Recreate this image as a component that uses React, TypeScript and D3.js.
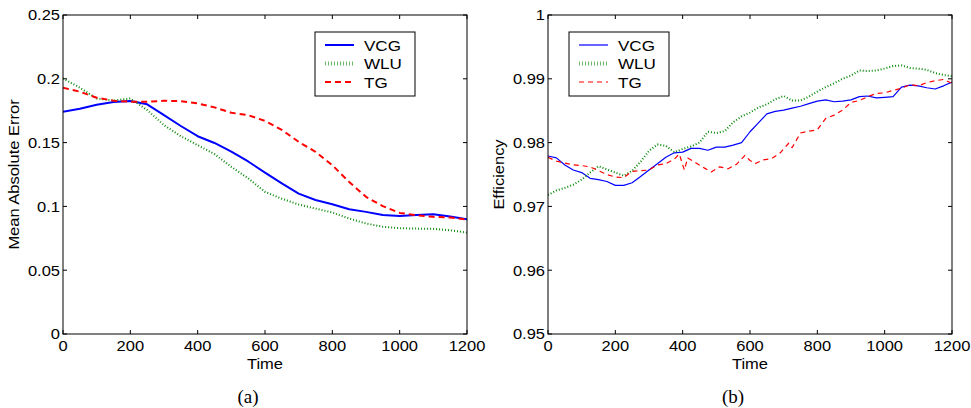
import React from "react";
import * as d3 from "d3";

// ---------- Data: panel (a) Mean Absolute Error ----------
const timeA = [0, 50, 100, 150, 200, 250, 300, 350, 400, 450, 500, 550, 600, 650, 700, 750, 800, 850, 900, 950, 1000, 1050, 1100, 1150, 1200];
const vcgA = [0.1742, 0.1765, 0.1797, 0.1818, 0.1826, 0.1800, 0.1715, 0.1630, 0.1550, 0.1497, 0.1430, 0.1352, 0.1265, 0.1180, 0.1100, 0.1050, 0.1017, 0.0978, 0.0957, 0.0932, 0.0925, 0.0932, 0.0938, 0.0920, 0.0900];
const wluA = [0.2003, 0.1930, 0.1846, 0.1830, 0.1846, 0.1755, 0.1637, 0.1550, 0.1480, 0.1410, 0.1310, 0.1220, 0.1114, 0.1060, 0.1015, 0.0983, 0.0952, 0.0905, 0.0866, 0.0840, 0.0829, 0.0826, 0.0824, 0.0813, 0.0795];
const tgA = [0.1930, 0.1899, 0.1852, 0.1828, 0.1820, 0.1820, 0.1828, 0.1825, 0.1807, 0.1776, 0.1734, 0.1715, 0.1670, 0.1600, 0.1506, 0.1428, 0.1323, 0.1192, 0.1075, 0.1002, 0.0949, 0.0931, 0.0918, 0.0913, 0.0897];

// ---------- Data: panel (b) Efficiency ----------
const timeB = [0, 25, 50, 75, 100, 125, 150, 175, 200, 225, 250, 275, 300, 325, 350, 375, 400, 425, 450, 475, 500, 525, 550, 575, 600, 625, 650, 675, 700, 725, 750, 775, 800, 825, 850, 875, 900, 925, 950, 975, 1000, 1025, 1050, 1075, 1100, 1125, 1150, 1175, 1200];
const vcgB = [0.9779, 0.9776, 0.9765, 0.9757, 0.9753, 0.9744, 0.9742, 0.9739, 0.9733, 0.9733, 0.9737, 0.9747, 0.9757, 0.9767, 0.9777, 0.9784, 0.9785, 0.9791, 0.9791, 0.9788, 0.9793, 0.9793, 0.9796, 0.9800, 0.9817, 0.9831, 0.9845, 0.9849, 0.9851, 0.9854, 0.9857, 0.9861, 0.9865, 0.9867, 0.9864, 0.9865, 0.9867, 0.9872, 0.9873, 0.9870, 0.9871, 0.9872, 0.9887, 0.9890, 0.9889, 0.9886, 0.9884, 0.9889, 0.9895];
const wluB = [0.9718, 0.9725, 0.9729, 0.9734, 0.9742, 0.9753, 0.9763, 0.9758, 0.9753, 0.9748, 0.9756, 0.9770, 0.9787, 0.9797, 0.9795, 0.9785, 0.9790, 0.9794, 0.9800, 0.9817, 0.9815, 0.9818, 0.9832, 0.9841, 0.9847, 0.9855, 0.9860, 0.9868, 0.9873, 0.9866, 0.9866, 0.9872, 0.9880, 0.9887, 0.9893, 0.9900, 0.9905, 0.9913, 0.9912, 0.9913, 0.9916, 0.9920, 0.9921, 0.9917, 0.9916, 0.9914, 0.9909, 0.9906, 0.9904];
const timeTG = [0, 25, 50, 75, 100, 125, 150, 175, 200, 225, 250, 275, 300, 325, 350, 375, 390, 405, 415, 440, 465, 485, 510, 535, 560, 585, 600, 615, 640, 665, 690, 715, 725, 750, 775, 800, 825, 850, 875, 900, 925, 950, 975, 1000, 1025, 1050, 1075, 1100, 1125, 1150, 1175, 1200];
const tgB = [0.9777, 0.9771, 0.9768, 0.9765, 0.9764, 0.9762, 0.9756, 0.9750, 0.9746, 0.9745, 0.9755, 0.9756, 0.9757, 0.9765, 0.9767, 0.9774, 0.9782, 0.9757, 0.9776, 0.9768, 0.9760, 0.9754, 0.9762, 0.9759, 0.9766, 0.9780, 0.9772, 0.9767, 0.9773, 0.9775, 0.9784, 0.9799, 0.9792, 0.9815, 0.9818, 0.9820, 0.9838, 0.9843, 0.9851, 0.9863, 0.9866, 0.9872, 0.9877, 0.9878, 0.9882, 0.9885, 0.9891, 0.9889, 0.9894, 0.9897, 0.9899, 0.9893];

const seriesNames = ["VCG", "WLU", "TG"];
const xTicks = [0, 200, 400, 600, 800, 1000, 1200];
const yTicksA = [0, 0.05, 0.1, 0.15, 0.2, 0.25];
const yTicksALabels = ["0", "0.05", "0.1", "0.15", "0.2", "0.25"];
const yTicksB = [0.95, 0.96, 0.97, 0.98, 0.99, 1];
const yTicksBLabels = ["0.95", "0.96", "0.97", "0.98", "0.99", "1"];

const SANS = "'Liberation Sans', Arial, Helvetica, sans-serif";
const SERIF = "'Liberation Serif', 'Times New Roman', serif";
const SX = 1.1;

function T({ x, y, anchor = "start", size = 15, rotate = 0, family = SANS, dy = "0", children }: any) {
  return (
    <g transform={`translate(${x},${y}) rotate(${rotate}) scale(${SX},1)`}>
      <text x={0} y={0} dy={dy} textAnchor={anchor} fontSize={size} fontFamily={family} fill="#000">
        {children}
      </text>
    </g>
  );
}

type Style = { color: string; width: number; dash: string | null };

function Panel({ left, right, top, bottom, yDomain, yTicks, yLabels, yTitle, caption, series, styles, legendX }: any) {
  const x = d3.scaleLinear().domain([0, 1200]).range([left, right]);
  const y = d3.scaleLinear().domain(yDomain).range([bottom, top]);
  const tl = 4;
  const cx = (left + right) / 2;
  return (
    <g>
      <defs>
        <clipPath id={`clip-${caption}`}>
          <rect x={left} y={top} width={right - left} height={bottom - top} />
        </clipPath>
      </defs>
      <g clipPath={`url(#clip-${caption})`}>
        {series.map((s: any, i: number) => {
          const st: Style = styles[i];
          const line = d3
            .line<number>()
            .x((_, k) => x(s.t[k]))
            .y((v) => y(v))
            .curve(d3.curveLinear);
          return (
            <path
              key={i}
              d={line(s.v) || ""}
              fill="none"
              stroke={st.color}
              strokeWidth={st.width}
              strokeDasharray={st.dash || undefined}
              strokeLinejoin="round"
            />
          );
        })}
      </g>
      <rect x={left} y={top} width={right - left} height={bottom - top} fill="none" stroke="#000" strokeWidth={1} />
      {xTicks.map((t) => (
        <g key={`xt${t}`}>
          <line x1={x(t)} x2={x(t)} y1={bottom} y2={bottom - tl} stroke="#000" />
          <line x1={x(t)} x2={x(t)} y1={top} y2={top + tl} stroke="#000" />
          <T x={x(t)} y={351} anchor="middle">{String(t)}</T>
        </g>
      ))}
      {yTicks.map((t: number, i: number) => (
        <g key={`yt${i}`}>
          <line x1={left} x2={left + tl} y1={y(t)} y2={y(t)} stroke="#000" />
          <line x1={right} x2={right - tl} y1={y(t)} y2={y(t)} stroke="#000" />
          <T x={left - 3} y={y(t)} anchor="end" dy="0.36em">{yLabels[i]}</T>
        </g>
      ))}
      <T x={cx} y={369} anchor="middle">Time</T>
      <T x={left - 44} y={(top + bottom) / 2} anchor="middle" rotate={-90}>{yTitle}</T>
      <text x={cx - 17} y={403} textAnchor="middle" fontSize={19} fontFamily={SERIF} fill="#000">({caption})</text>
      <g>
        <rect x={legendX} y={32} width={100} height={64} fill="#fff" stroke="#000" strokeWidth={1} />
        {seriesNames.map((n, i) => {
          const st: Style = styles[i];
          const ly = 45 + i * 18.5;
          const dotted = st.dash === "1 2";
          return (
            <g key={n}>
              <line
                x1={legendX + 10}
                x2={legendX + 39}
                y1={ly}
                y2={ly}
                stroke={st.color}
                strokeWidth={dotted ? 4 : st.width}
                strokeDasharray={st.dash || undefined}
                opacity={dotted ? 0.6 : 1}
              />
              <T x={legendX + 49} y={ly} dy="0.36em" size={15.5}>{n}</T>
            </g>
          );
        })}
      </g>
    </g>
  );
}

export default function App() {
  const stylesA: Style[] = [
    { color: "#0000ff", width: 2, dash: null },
    { color: "#0a8a0a", width: 2, dash: "1 2" },
    { color: "#ff0000", width: 2, dash: "6 4" },
  ];
  const stylesB: Style[] = [
    { color: "#0000ff", width: 1.2, dash: null },
    { color: "#0a8a0a", width: 2, dash: "1 2" },
    { color: "#ff0000", width: 1.2, dash: "5 4" },
  ];
  const seriesA = [
    { t: timeA, v: vcgA },
    { t: timeA, v: wluA },
    { t: timeA, v: tgA },
  ];
  const seriesB = [
    { t: timeB, v: vcgB },
    { t: timeB, v: wluB },
    { t: timeTG, v: tgB },
  ];
  return (
    <svg width={971} height={408} style={{ position: "absolute", left: 0, top: 0, background: "#fff" }}>
      <rect x={0} y={0} width={971} height={408} fill="#fff" />
      <Panel left={63} right={467} top={15} bottom={334} yDomain={[0, 0.25]} yTicks={yTicksA} yLabels={yTicksALabels}
        yTitle="Mean Absolute Error" caption="a" series={seriesA} styles={stylesA} legendX={315} />
      <Panel left={548} right={952} top={15} bottom={334} yDomain={[0.95, 1]} yTicks={yTicksB} yLabels={yTicksBLabels}
        yTitle="Efficiency" caption="b" series={seriesB} styles={stylesB} legendX={569} />
    </svg>
  );
}
